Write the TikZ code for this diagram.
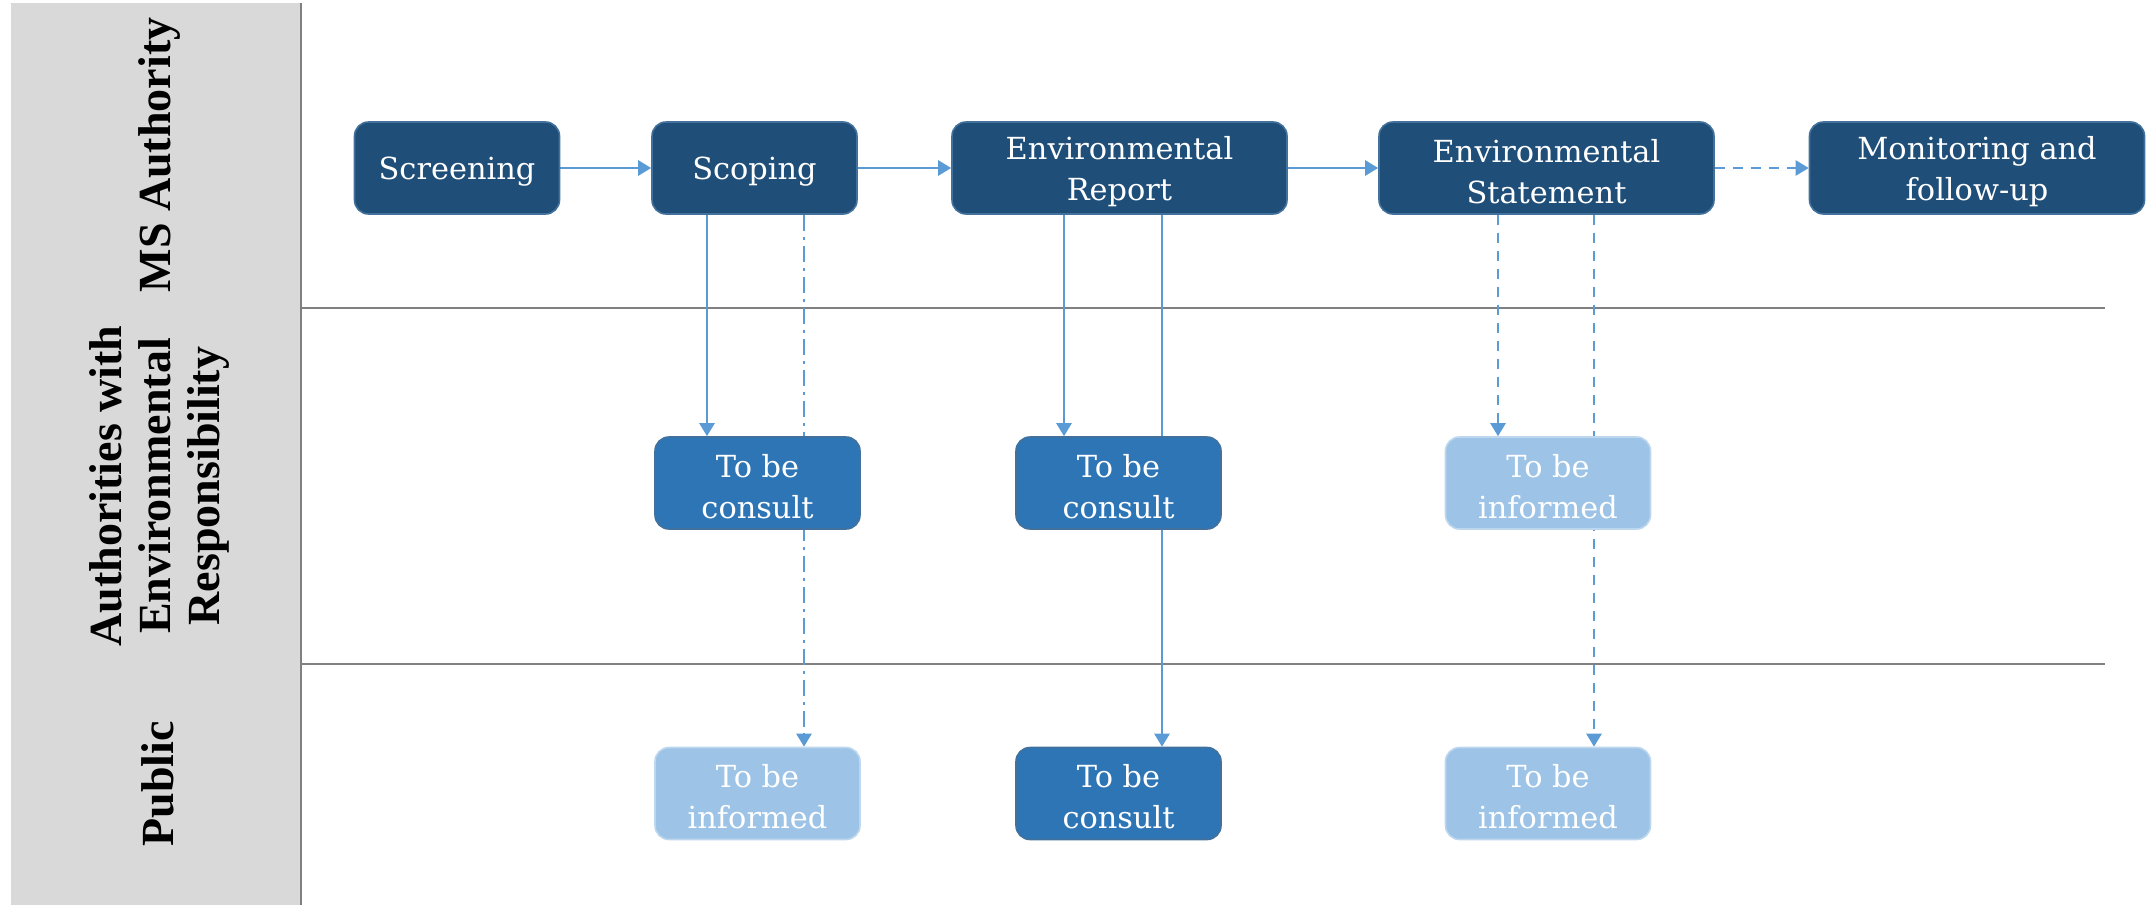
\documentclass[tikz,border=0pt]{standalone}
\usepackage{fontspec}
\setmainfont{DejaVu Serif}
\newfontfamily\lblfont{Liberation Serif}
\usetikzlibrary{arrows.meta,backgrounds}
\definecolor{darkbox}{HTML}{1F4E79}
\definecolor{darkedge}{HTML}{41719C}
\definecolor{consultc}{HTML}{2E75B6}
\definecolor{informc}{HTML}{9DC3E6}
\definecolor{informedge}{HTML}{BDD7EE}
\definecolor{arrowc}{HTML}{5B9BD5}
\definecolor{lanegray}{HTML}{D9D9D9}
\definecolor{sepgray}{HTML}{808080}
\newcommand\boxstrut{\rule{0pt}{15pt}}
\tikzset{
  box/.style={rounded corners=7pt, minimum width=102.5pt, minimum height=46pt,
    text=white, align=center, inner sep=0pt, line width=0.8pt,
    font=\fontsize{15.2}{20.3}\selectfont},
  darkb/.style={box, fill=darkbox, draw=darkedge},
  consultb/.style={box, fill=consultc, draw=darkedge},
  informb/.style={box, fill=informc, draw=informedge},
  widebox/.style={minimum width=167.5pt},
  lanelbl/.style={rotate=90, align=center, text=black, inner sep=0pt,
    font=\lblfont\bfseries\fontsize{23}{24.5}\selectfont},
  arr/.style={draw=arrowc, line width=1.3pt, -{Triangle[width=7.5pt,length=6.5pt]}},
  dashline/.style={dash pattern=on 5pt off 4pt},
  dashdotline/.style={dash pattern=on 8pt off 3pt on 1.5pt off 3pt},
  sep/.style={draw=sepgray, line width=1.3pt}
}
\begin{document}
\begin{tikzpicture}[x=0.5pt,y=-0.5pt]
\useasboundingbox (0,0) rectangle (2147,905);
% lane labels
\fill[lanegray] (11,3) rectangle (300,905);
\node[lanelbl] (lane1) at (160,155) {MS Authority};
\node[lanelbl] (lane2) at (160,486) {Authorities with\\Environmental\\Responsibility};
\node[lanelbl] (lane3) at (158,784) {Public};
% row 1
\node[darkb] (scr) at (457,168) {\boxstrut Screening};
\node[darkb] (scp) at (754.5,168) {\boxstrut Scoping};
\node[darkb,widebox] (er) at (1119.5,168) {\boxstrut Environmental\\Report};
\node[darkb,widebox] (es) at (1546.5,168) {\boxstrut Environmental\\Statement};
\node[darkb,widebox] (mon) at (1977,168) {\boxstrut Monitoring and\\follow-up};
% row 2
\node[consultb] (c1) at (757.5,483) {\boxstrut To be\\consult};
\node[consultb] (c2) at (1118.5,483) {\boxstrut To be\\consult};
\node[informb] (i2) at (1548,483) {\boxstrut To be\\informed};
% row 3
\node[informb] (p1) at (757.5,793.5) {\boxstrut To be\\informed};
\node[consultb] (p2) at (1118.5,793.5) {\boxstrut To be\\consult};
\node[informb] (p3) at (1548,793.5) {\boxstrut To be\\informed};
% x positions of vertical connectors
\coordinate (v1) at (707,0);
\coordinate (v2) at (804,0);
\coordinate (v3) at (1064,0);
\coordinate (v4) at (1162,0);
\coordinate (v5) at (1498,0);
\coordinate (v6) at (1594,0);
\coordinate (s1a) at (300,308);
\coordinate (s1b) at (2105,308);
\coordinate (s2a) at (300,664);
\coordinate (s2b) at (2105,664);
\coordinate (vt) at (300.5,3);
\coordinate (vb) at (300.5,905);
\begin{scope}[on background layer]
  \draw[sep] (vt) -- (vb);
  \draw[sep] (s1a) -- (s1b);
  \draw[sep] (s2a) -- (s2b);
  \draw[arr] (scr) -- (scp);
  \draw[arr] (scp) -- (er);
  \draw[arr] (er) -- (es);
  \draw[arr,dashline] (es) -- (mon);
  \draw[arr] (scp.south -| v1) -- (c1.north -| v1);
  \draw[arr,dashdotline] (scp.south -| v2) -- (p1.north -| v2);
  \draw[arr] (er.south -| v3) -- (c2.north -| v3);
  \draw[arr] (er.south -| v4) -- (p2.north -| v4);
  \draw[arr,dashline] (es.south -| v5) -- (i2.north -| v5);
  \draw[arr,dashline] (es.south -| v6) -- (p3.north -| v6);
\end{scope}
\end{tikzpicture}
\end{document}
